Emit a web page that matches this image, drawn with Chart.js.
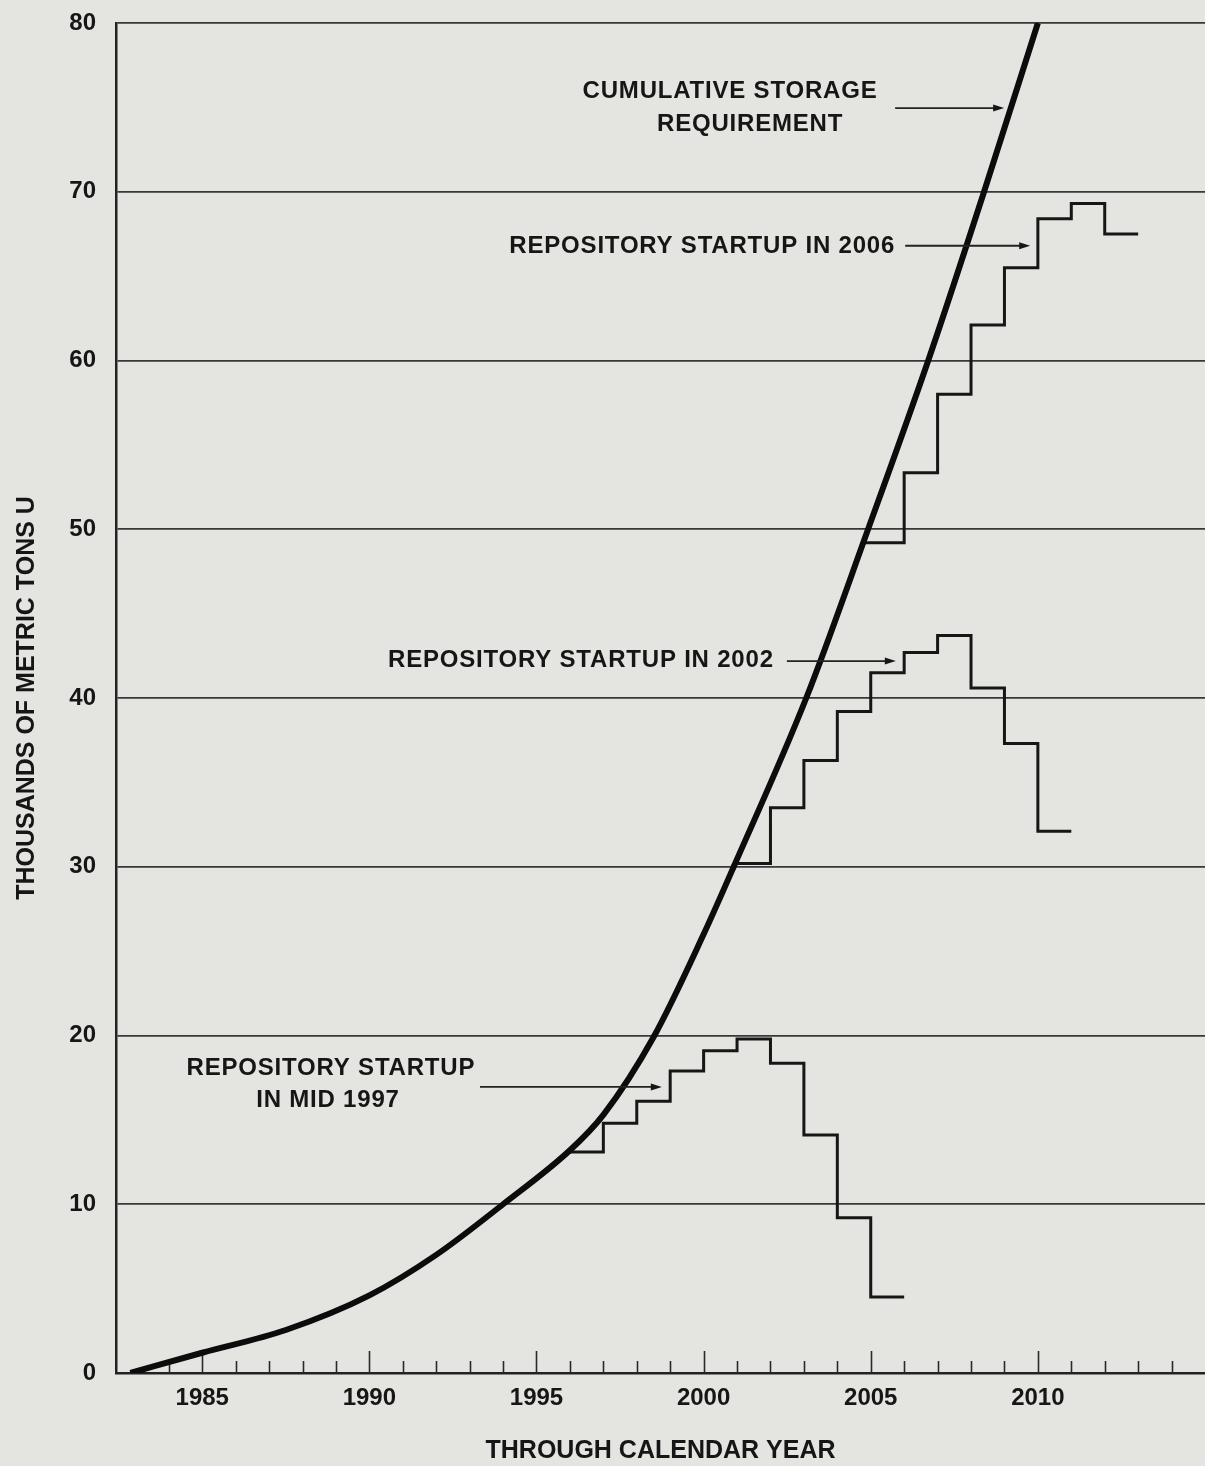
<!DOCTYPE html>
<html>
<head>
<meta charset="utf-8">
<title>Cumulative Storage Requirement</title>
<script src="https://cdn.jsdelivr.net/npm/chart.js@4.4.1/dist/chart.umd.min.js"></script>
<style>
  html, body { margin: 0; padding: 0; background: #e4e4e1; }
  #wrap { position: relative; width: 1205px; height: 1466px; }
</style>
</head>
<body>
<div id="wrap"><canvas id="chart"></canvas></div>
<script>
// Cumulative storage requirement (thousands of metric tons U) through each calendar year
const curveYears  = [1982.85, 1985, 1987.5, 1990, 1992, 1994, 1996, 1997, 1998.5, 2000, 2000.9,
                     2003.07, 2004.92, 2006.72, 2008.39, 2010.0];
const curveValues = [0, 1.2, 2.55, 4.6, 7.0, 10.0, 13.2, 15.3, 19.9, 26.0, 30.0,
                     40, 50, 60, 70, 80];

// Storage needed for each repository startup date.
// *Years: start of the series, each yearly step, and its end; *Values: one level per interval.
const mid1997Years  = [1995.9, 1997, 1998, 1999, 2000, 2001, 2002, 2003, 2004, 2005, 2006];
const mid1997Values = [13.1, 14.8, 16.1, 17.9, 19.1, 19.8, 18.35, 14.1, 9.2, 4.5];

const startup2002Years  = [2000.95, 2002, 2003, 2004, 2005, 2006, 2007, 2008, 2009, 2010, 2011];
const startup2002Values = [30.2, 33.5, 36.3, 39.2, 41.5, 42.7, 43.7, 40.6, 37.3, 32.1];

const startup2006Years  = [2004.8, 2006, 2007, 2008, 2009, 2010, 2011, 2012, 2013];
const startup2006Values = [49.2, 53.35, 58.0, 62.1, 65.5, 68.4, 69.3, 67.5];

// Axis ticks
const yearTicks  = [1983, 1984, 1985, 1986, 1987, 1988, 1989, 1990, 1991, 1992, 1993, 1994, 1995, 1996, 1997, 1998,
                    1999, 2000, 2001, 2002, 2003, 2004, 2005, 2006, 2007, 2008, 2009, 2010, 2011, 2012, 2013, 2014];
const valueTicks = [0, 10, 20, 30, 40, 50, 60, 70, 80];

// Callout text and arrows, anchored in (year, value) units
const callouts = [
  { text: 'CUMULATIVE STORAGE', year: 2000.79, value: 75.97, align: 'center' },
  { text: 'REQUIREMENT', year: 2001.39, value: 74.01, align: 'center' },
  { text: 'REPOSITORY STARTUP IN 2006', year: 2005.73, value: 66.77, align: 'right' },
  { text: 'REPOSITORY STARTUP IN 2002', year: 2002.10, value: 42.25, align: 'right' },
  { text: 'REPOSITORY STARTUP', year: 1988.85, value: 18.07, align: 'center' },
  { text: 'IN MID 1997', year: 1988.76, value: 16.14, align: 'center' }
];
const arrows = [
  { from: [2005.73, 74.96], to: [2008.99, 74.96] },
  { from: [2006.03, 66.80], to: [2009.77, 66.80] },
  { from: [2002.49, 42.19], to: [2005.75, 42.19] },
  { from: [1993.31, 16.95], to: [1998.75, 16.95] }
];

const FONT = '"Liberation Sans", Arial, Helvetica, sans-serif';
const INK = '#161616';

function pts(xs, ys) {
  return xs.map((x, i) => ({ x: x, y: ys[i] }));
}
function stepPts(xs, levels) {
  // stepped line: each point carries the level of the interval that starts there
  return xs.map((x, i) => ({ x: x, y: levels[Math.min(i, levels.length - 1)] }));
}

// Tick marks on the year axis, drawn upward into the plot
const yearTickMarks = {
  id: 'yearTickMarks',
  beforeDatasetsDraw(chart) {
    const xs = chart.scales.x, ys = chart.scales.y;
    const base = ys.getPixelForValue(0);
    const ctx = chart.ctx;
    ctx.save();
    ctx.strokeStyle = '#2a2a2a';
    ctx.lineWidth = 1.6;
    yearTicks.forEach(yr => {
      if (yr < 1984) return;
      const px = Math.round(xs.getPixelForValue(yr)) + 0.5;
      const len = yr % 5 === 0 ? 22 : 12;
      ctx.beginPath();
      ctx.moveTo(px, base);
      ctx.lineTo(px, base - len);
      ctx.stroke();
    });
    ctx.restore();
  }
};

// Callout labels and arrows
const calloutLayer = {
  id: 'calloutLayer',
  afterDatasetsDraw(chart) {
    const xs = chart.scales.x, ys = chart.scales.y;
    const ctx = chart.ctx;
    ctx.save();
    ctx.fillStyle = INK;
    ctx.font = 'bold 24px ' + FONT;
    if ('letterSpacing' in ctx) ctx.letterSpacing = '0.8px';
    ctx.textBaseline = 'middle';
    callouts.forEach(c => {
      ctx.textAlign = c.align;
      ctx.fillText(c.text, xs.getPixelForValue(c.year), ys.getPixelForValue(c.value));
    });
    ctx.strokeStyle = '#222';
    ctx.lineWidth = 1.8;
    arrows.forEach(a => {
      const x1 = xs.getPixelForValue(a.from[0]), y1 = ys.getPixelForValue(a.from[1]);
      const x2 = xs.getPixelForValue(a.to[0]), y2 = ys.getPixelForValue(a.to[1]);
      ctx.beginPath();
      ctx.moveTo(x1, y1);
      ctx.lineTo(x2 - 8, y2);
      ctx.stroke();
      ctx.beginPath();
      ctx.moveTo(x2, y2);
      ctx.lineTo(x2 - 11, y2 - 3.5);
      ctx.lineTo(x2 - 11, y2 + 3.5);
      ctx.closePath();
      ctx.fill();
    });
    ctx.restore();
  }
};

const stepStyle = {
  borderColor: INK,
  borderWidth: 3,
  stepped: true,
  pointRadius: 0,
  fill: false
};

new Chart(document.getElementById('chart'), {
  type: 'line',
  data: {
    datasets: [
      {
        label: 'Cumulative storage requirement',
        data: pts(curveYears, curveValues),
        borderColor: '#0c0c0c',
        borderWidth: 6,
        cubicInterpolationMode: 'monotone',
        pointRadius: 0,
        fill: false
      },
      Object.assign({ label: 'Repository startup in mid 1997', data: stepPts(mid1997Years, mid1997Values) }, stepStyle),
      Object.assign({ label: 'Repository startup in 2002', data: stepPts(startup2002Years, startup2002Values) }, stepStyle),
      Object.assign({ label: 'Repository startup in 2006', data: stepPts(startup2006Years, startup2006Values) }, stepStyle)
    ]
  },
  options: {
    responsive: true,
    maintainAspectRatio: false,
    animation: false,
    events: [],
    layout: { padding: { left: 12, right: 0, top: 23, bottom: 0 } },
    plugins: {
      legend: { display: false },
      tooltip: { enabled: false },
      title: { display: false }
    },
    scales: {
      x: {
        type: 'linear',
        min: 1982.42,
        max: 2015.0,
        afterBuildTicks(scale) {
          scale.ticks = yearTicks.map(v => ({ value: v }));
        },
        afterFit(scale) {
          scale.height = 93;
          scale.paddingLeft = 0;
          scale.paddingRight = 0;
        },
        grid: { display: false, drawTicks: false },
        border: { display: true, color: '#222', width: 2.5 },
        ticks: {
          autoSkip: false,
          maxRotation: 0,
          padding: 10.6,
          color: INK,
          font: { family: FONT, size: 24, weight: 'bold' },
          callback: v => (v % 5 === 0 ? String(v) : '')
        },
        title: {
          display: true,
          text: 'THROUGH CALENDAR YEAR',
          color: INK,
          font: { family: FONT, size: 25, weight: 'bold' },
          padding: { top: 23.6, bottom: 0 }
        }
      },
      y: {
        type: 'linear',
        min: 0,
        max: 80,
        afterBuildTicks(scale) {
          scale.ticks = valueTicks.map(v => ({ value: v }));
        },
        afterFit(scale) {
          scale.width = 104;
          scale.paddingTop = 0;
          scale.paddingBottom = 0;
        },
        grid: { display: true, drawTicks: false, color: '#383838', lineWidth: 1.8 },
        border: { display: true, color: '#222', width: 2.5 },
        ticks: {
          padding: 20,
          color: INK,
          font: { family: FONT, size: 24, weight: 'bold' }
        },
        title: {
          display: true,
          text: 'THOUSANDS OF METRIC TONS U',
          color: INK,
          font: { family: FONT, size: 25, weight: 'bold' },
          padding: { top: 0, bottom: 27.3 }
        }
      }
    }
  },
  plugins: [yearTickMarks, calloutLayer]
});
</script>
</body>
</html>
